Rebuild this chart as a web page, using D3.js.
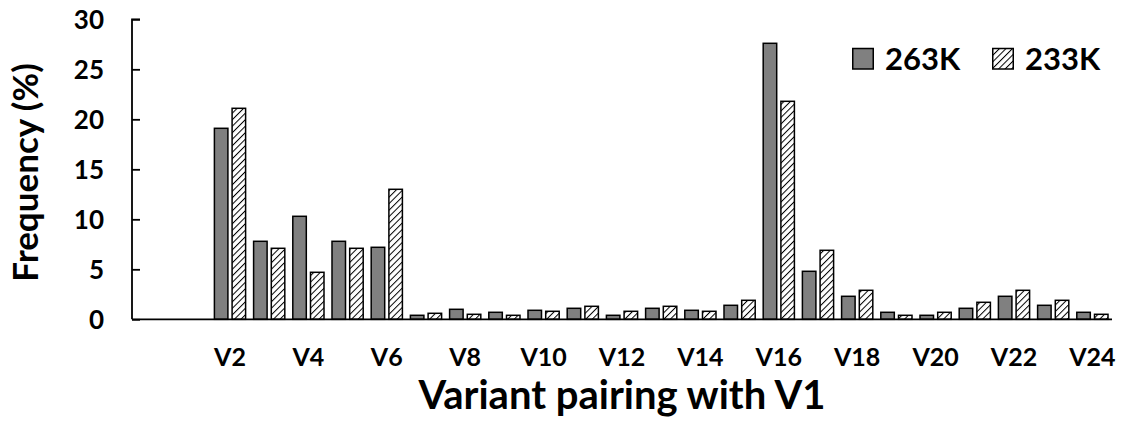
<!DOCTYPE html>
<html>
<head>
<meta charset="utf-8">
<script src="https://cdn.jsdelivr.net/npm/d3@7"></script>
<style>
  html, body { margin: 0; padding: 0; background: #fff; }
  svg { display: block; font-family: Lato, "Open Sans", sans-serif; font-weight: 700; }
</style>
</head>
<body>
<svg id="chart" width="1121" height="423"></svg>
<script>
// Variant slots along the x axis (first slot left empty, V1 is the reference)
const categories = ["", "V1", "V2", "V3", "V4", "V5", "V6", "V7", "V8", "V9", "V10", "V11", "V12",
  "V13", "V14", "V15", "V16", "V17", "V18", "V19", "V20", "V21", "V22", "V23", "V24"];

// Pairing frequency (%) at each temperature
const freq263K = [null, null, 19.1, 7.8, 10.3, 7.8, 7.2, 0.4, 1.0, 0.7, 0.9, 1.1, 0.4,
  1.1, 0.9, 1.4, 27.6, 4.8, 2.3, 0.7, 0.4, 1.1, 2.3, 1.4, 0.7];
const freq233K = [null, null, 21.1, 7.1, 4.7, 7.1, 13.0, 0.6, 0.5, 0.4, 0.8, 1.3, 0.8,
  1.3, 0.8, 1.9, 21.8, 6.9, 2.9, 0.4, 0.7, 1.7, 2.9, 1.9, 0.5];

const seriesNames = ["263K", "233K"];
const yTicks = [0, 5, 10, 15, 20, 25, 30];

const svg = d3.select("#chart");
const plotLeft = 132, plotRight = 1112, plotTop = 19.3, plotBottom = 319.3;

const x = d3.scaleBand().domain(categories).range([plotLeft, plotRight])
  .paddingInner(0.204).paddingOuter(0.102);
const xs = d3.scaleBand().domain(seriesNames).range([0, x.bandwidth()]).paddingInner(0.237);
const y = d3.scaleLinear().domain([0, 30]).range([plotBottom, plotTop]);

// diagonal hatch for the 233K series
const defs = svg.append("defs");
const pat = defs.append("pattern")
  .attr("id", "hatch").attr("patternUnits", "userSpaceOnUse")
  .attr("width", 4.6).attr("height", 4.6)
  .attr("patternTransform", "rotate(45)");
pat.append("rect").attr("width", 4.6).attr("height", 4.6).attr("fill", "#fff");
pat.append("line").attr("x1", 0).attr("y1", 0).attr("x2", 0).attr("y2", 4.6)
  .attr("stroke", "#000").attr("stroke-width", 2);

const fills = { "263K": "#808080", "233K": "url(#hatch)" };

const rows = [];
categories.forEach((c, i) => {
  rows.push({ cat: c, s: "263K", v: freq263K[i] });
  rows.push({ cat: c, s: "233K", v: freq233K[i] });
});

svg.append("g").selectAll("rect")
  .data(rows.filter(d => d.v != null))
  .join("rect")
  .attr("x", d => x(d.cat) + xs(d.s))
  .attr("width", xs.bandwidth())
  .attr("y", d => y(d.v))
  .attr("height", d => y(0) - y(d.v))
  .attr("fill", d => fills[d.s])
  .attr("stroke", "#000")
  .attr("stroke-width", 1.5);

// y axis with inward ticks
const yAxis = svg.append("g").attr("transform", `translate(${plotLeft},0)`)
  .call(d3.axisRight(y).tickValues(yTicks).tickSize(8).tickFormat(""));
yAxis.select(".domain").attr("d", `M8,${plotTop}H0V${plotBottom}`).attr("stroke-width", 1.8);
yAxis.selectAll(".tick line").attr("stroke-width", 1.8);

svg.append("g").selectAll("text")
  .data(yTicks).join("text")
  .attr("x", plotLeft - 28).attr("y", d => y(d))
  .attr("text-anchor", "end").attr("dominant-baseline", "central")
  .attr("font-size", 26).text(d => d);

// x axis
const xAxis = svg.append("g").attr("transform", `translate(0,${plotBottom})`)
  .call(d3.axisBottom(x).tickSize(0).tickFormat(""));
xAxis.select(".domain").attr("d", `M${plotLeft},0H${plotRight}`).attr("stroke-width", 1.8);

svg.append("g").selectAll("text")
  .data(categories.filter((c, i) => i % 2 === 0 && c !== ""))
  .join("text")
  .attr("x", d => x(d) + x.bandwidth() / 2).attr("y", 365.7)
  .attr("text-anchor", "middle").attr("font-size", 25).text(d => d);

// axis titles
svg.append("text").attr("x", 622).attr("y", 409.3).attr("text-anchor", "middle")
  .attr("font-size", 40).text("Variant pairing with V1");
svg.append("text").attr("transform", "translate(38,172.5) rotate(-90)")
  .attr("text-anchor", "middle").attr("font-size", 35).text("Frequency (%)");

// legend
const legend = svg.append("g");
const legendX = [852, 992];
seriesNames.forEach((s, i) => {
  legend.append("rect").attr("x", legendX[i] + 0.75).attr("y", 48.5)
    .attr("width", 20.5).attr("height", 20.5)
    .attr("fill", fills[s]).attr("stroke", "#000").attr("stroke-width", 1.5);
  legend.append("text").attr("x", legendX[i] + 33).attr("y", 70)
    .attr("font-size", 31).text(s);
});
</script>
</body>
</html>
